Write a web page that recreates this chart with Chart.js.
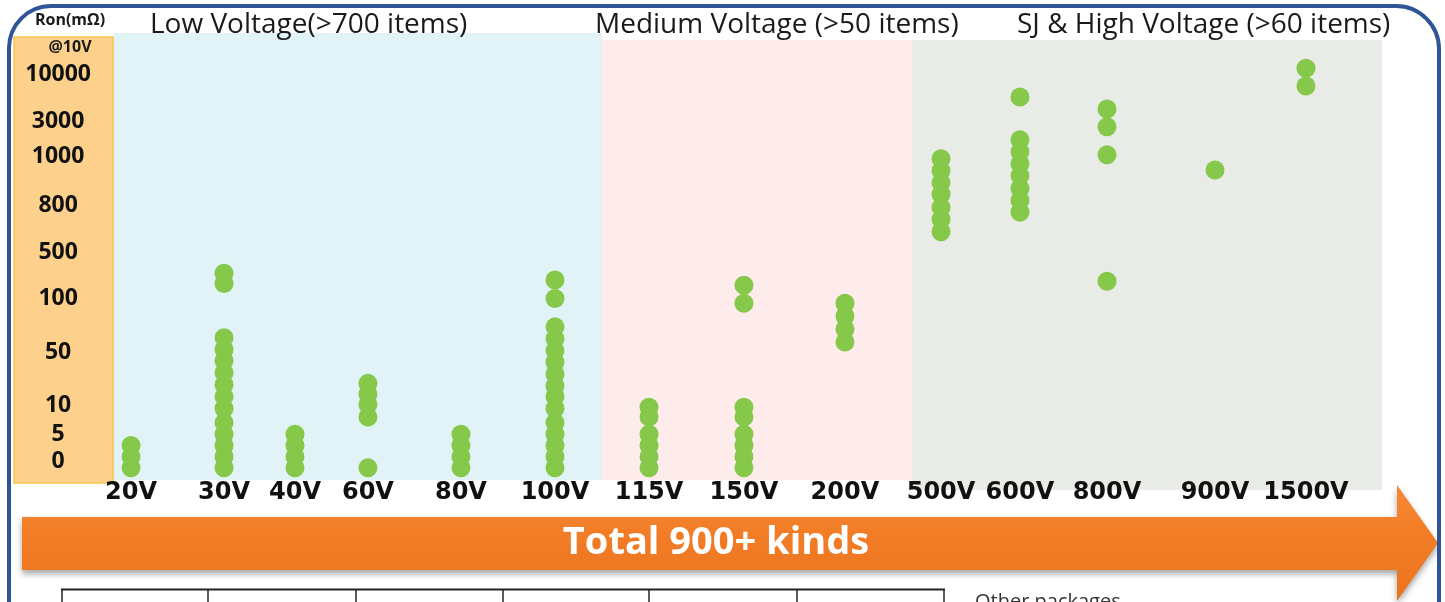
<!DOCTYPE html>
<html>
<head>
<meta charset="utf-8">
<script src="https://cdn.jsdelivr.net/npm/chart.js@4.4.0/dist/chart.umd.min.js"></script>
<style>
  html, body { margin: 0; padding: 0; background: #fff; }
  #wrap { width: 1445px; height: 602px; }
</style>
</head>
<body>
<div id="wrap"><canvas id="grafico" width="1445" height="602"></canvas></div>
<script>
// data
const voltages = ['20V', '30V', '40V', '60V', '80V', '100V', '115V', '150V', '200V', '500V', '600V', '800V', '900V', '1500V'];
const ronValues = [   // Ron (mΩ) of each product, per voltage
    [0, 2, 4],
    [0, 2, 4, 6, 8, 12, 21, 30, 39, 48, 58, 69, 280, 370],
    [0, 2, 4, 6],
    [0, 9, 15, 23, 31],
    [0, 2, 4, 6],
    [0, 2, 4, 6, 8, 12, 21, 29, 38, 47, 57, 68, 79, 150, 310],
    [0, 2, 4, 6, 9, 13],
    [0, 2, 4, 6, 9, 13, 109, 265],
    [65, 77, 89, 109],
    [670, 750, 816, 870, 918, 967, 1230],
    [795, 845, 894, 947, 996, 1630, 2310, 7600],
    [300, 1460, 3150, 5800],
    [970],
    [9250, 11900]
];
const ronTicks = [0, 5, 10, 50, 100, 500, 800, 1000, 3000, 10000];
const groupTitles = ['Low Voltage(>700 items)', 'Medium Voltage (>50 items)', 'SJ & High Voltage (>60 items)'];
const groupEdges = [5.5, 8.7]; // between 100V/115V and 200V/500V
const bannerText = 'Total 900+ kinds';

// axis layout: where each knot sits along the axis (0..1)
const knotLayout = {
    x: { knots: voltages.map((v, i) => i), spots: [0.0142, 0.0875, 0.1434, 0.2009, 0.2742, 0.3483, 0.4224, 0.4972, 0.5768, 0.6525, 0.7147, 0.7833, 0.8684, 0.9401] },
    y: { knots: ronTicks, spots: [0.023, 0.086, 0.151, 0.271, 0.393, 0.497, 0.603, 0.713, 0.792, 0.898] }
};

// piecewise linear scale, the axis of the slide is not linear nor log
class KnotScale extends Chart.LinearScale {
    static id = 'knot';
    static defaults = {};
    buildTicks() {
        return knotLayout[this.id].knots.map(v => ({ value: v }));
    }
    getPixelForValue(value) {
        if (value === null || value === undefined) return NaN;
        const { knots: k, spots: s } = knotLayout[this.id];
        let i = 0;
        while (i < k.length - 2 && value > k[i + 1]) i++;
        const dec = s[i] + (value - k[i]) / (k[i + 1] - k[i]) * (s[i + 1] - s[i]);
        return this.getPixelForDecimal(dec);
    }
}
Chart.register(KnotScale);

const pontos = [];
voltages.forEach((v, i) => ronValues[i].forEach(r => pontos.push({ x: i, y: r })));

const decor = {
    id: 'decor',
    beforeDraw(chart) {
        const { ctx, chartArea: a } = chart;
        const x = chart.scales.x;
        const e1 = x.getPixelForValue(groupEdges[0]);
        const e2 = x.getPixelForValue(groupEdges[1]);
        ctx.save();
        ctx.fillStyle = '#ffffff';
        ctx.fillRect(0, 0, chart.width, chart.height);

        // group bands
        ctx.fillStyle = '#e1f3f6';
        ctx.fillRect(a.left, 33, e1 - a.left, 447);
        ctx.fillStyle = '#fdeceb';
        ctx.fillRect(e1, 40, e2 - e1, 440);
        ctx.fillStyle = '#e8ebe6';
        ctx.fillRect(e2, 40, a.right - e2, 450);

        // y axis band
        ctx.fillStyle = '#fdd18c';
        ctx.fillRect(14, 37, a.left - 14, 446);
        ctx.strokeStyle = '#f7c54e';
        ctx.lineWidth = 1.5;
        ctx.strokeRect(14, 37, a.left - 14, 446);

        // titles
        ctx.fillStyle = '#1a1a1a';
        ctx.textBaseline = 'middle';
        ctx.textAlign = 'left';
        ctx.font = '28px "Open Sans"';
        ctx.fillText(groupTitles[0], 150, 25);
        ctx.fillText(groupTitles[1], 595, 25);
        ctx.fillText(groupTitles[2], 1017, 25);
        ctx.textAlign = 'center';
        ctx.font = 'bold 16px "Open Sans"';
        ctx.fillText('Ron(mΩ)', 70, 20);
        ctx.font = 'bold 16px "Open Sans"';
        ctx.fillText('@10V', 70, 47);

        // arrow banner
        ctx.save();
        ctx.shadowColor = 'rgba(0,0,0,0.35)';
        ctx.shadowBlur = 6;
        ctx.shadowOffsetY = 4;
        const g = ctx.createLinearGradient(0, 485, 0, 600);
        g.addColorStop(0, '#f68a36');
        g.addColorStop(0.4, '#f27d26');
        g.addColorStop(1, '#ec741f');
        ctx.fillStyle = g;
        ctx.beginPath();
        ctx.moveTo(22, 517);
        ctx.lineTo(1397, 517);
        ctx.lineTo(1397, 485);
        ctx.lineTo(1438, 543);
        ctx.lineTo(1397, 601);
        ctx.lineTo(1397, 570);
        ctx.lineTo(22, 570);
        ctx.closePath();
        ctx.fill();
        ctx.restore();
        ctx.fillStyle = '#ffffff';
        ctx.font = 'bold 38px "Open Sans"';
        ctx.fillText(bannerText, 716, 543);

        // table below (cut off)
        ctx.strokeStyle = '#222';
        ctx.lineWidth = 2;
        ctx.beginPath();
        ctx.moveTo(61, 589.5);
        ctx.lineTo(945, 589.5);
        ctx.stroke();
        ctx.lineWidth = 1.5;
        [62, 208, 356, 503, 649, 797, 944].forEach(px => {
            ctx.beginPath();
            ctx.moveTo(px, 589);
            ctx.lineTo(px, 602);
            ctx.stroke();
        });
        ctx.fillStyle = '#333';
        ctx.textAlign = 'left';
        ctx.textBaseline = 'top';
        ctx.font = '20px "Open Sans"';
        ctx.fillText('Other packages', 975, 592);

        // blue frame
        ctx.strokeStyle = '#2f5597';
        ctx.lineWidth = 4;
        ctx.beginPath();
        ctx.moveTo(9, 610);
        ctx.lineTo(9, 48);
        ctx.arcTo(9, 6, 51, 6, 42);
        ctx.lineTo(1396, 6);
        ctx.arcTo(1439, 6, 1439, 49, 43);
        ctx.lineTo(1439, 610);
        ctx.stroke();
        ctx.restore();
    }
};

const ctx = document.getElementById('grafico');
new Chart(ctx, {
    type: 'scatter',
    data: {
        datasets: [{
            data: pontos,
            backgroundColor: '#85c84a',
            borderWidth: 0,
            pointRadius: 9.5,
            clip: false
        }]
    },
    options: {
        responsive: false,
        animation: false,
        events: [],
        layout: { padding: { left: 14, right: 63, top: 35, bottom: 94 } },
        plugins: {
            legend: { display: false },
            tooltip: { enabled: false }
        },
        scales: {
            x: {
                type: 'knot',
                grid: { display: false, drawTicks: false },
                border: { display: false },
                afterFit: s => { s.height = 30; },
                ticks: {
                    autoSkip: false,
                    maxRotation: 0,
                    padding: 0,
                    color: '#111',
                    font: { family: 'DejaVu Sans', weight: 'bold', size: 24 },
                    callback: v => voltages[v]
                }
            },
            y: {
                type: 'knot',
                grid: { display: false, drawTicks: false },
                border: { display: false },
                afterFit: s => { s.width = 99; },
                ticks: {
                    autoSkip: false,
                    crossAlign: 'center',
                    padding: 22,
                    labelOffset: -6,
                    color: '#111',
                    font: { family: 'Open Sans', weight: 'bold', size: 23 },
                    callback: v => String(v)
                }
            }
        }
    },
    plugins: [decor]
});
</script>
</body>
</html>
